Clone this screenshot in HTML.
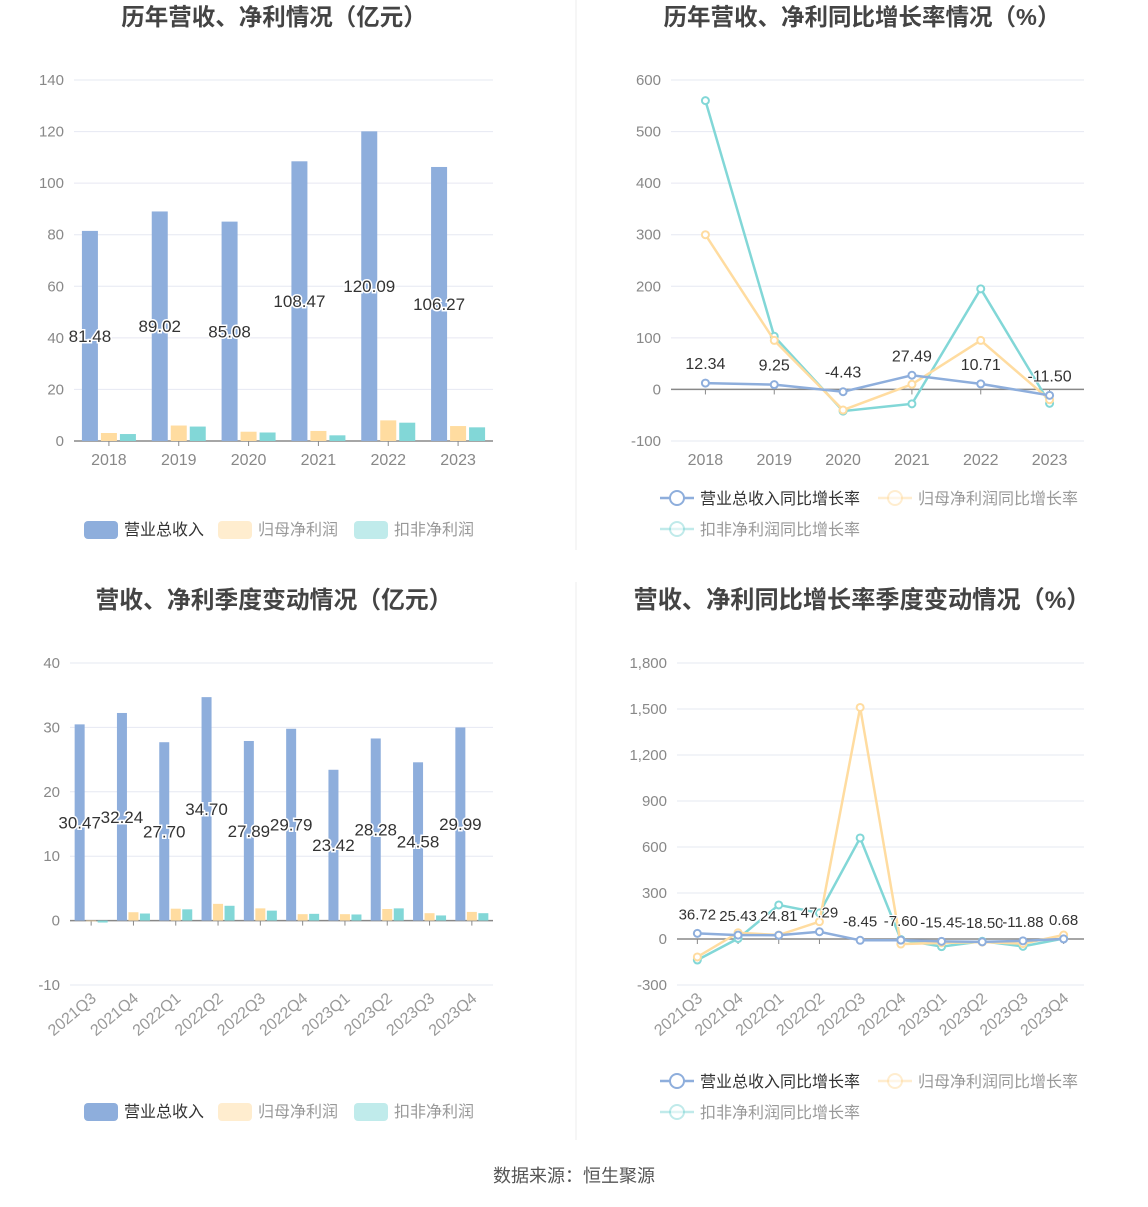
<!DOCTYPE html>
<html><head><meta charset="utf-8"><style>
body{margin:0;background:#fff;}
svg text{font-family:"Liberation Sans","Noto Sans CJK SC",sans-serif;}
</style></head><body>
<svg id="s" width="1148" height="1202" xmlns="http://www.w3.org/2000/svg">
<line x1="576" y1="0" x2="576" y2="550" stroke="#eee"/>
<line x1="576" y1="582" x2="576" y2="1140" stroke="#eee"/>
<text x="574" y="1182" text-anchor="middle" font-size="18" fill="#555">数据来源：恒生聚源</text>
</svg>
<script>
const years=["2018","2019","2020","2021","2022","2023"];
const revA=[81.48,89.02,85.08,108.47,120.09,106.27];
const npA=[3.1,6.0,3.6,3.9,8.0,5.8];
const dnpA=[2.7,5.6,3.3,2.2,7.1,5.3];
const revGA=[12.34,9.25,-4.43,27.49,10.71,-11.50];
const npGA=[300,95,-40,10,95,-20];
const dnpGA=[560,103,-42,-28,195,-27];
const quarters=["2021Q3","2021Q4","2022Q1","2022Q2","2022Q3","2022Q4","2023Q1","2023Q2","2023Q3","2023Q4"];
const revQ=[30.47,32.24,27.70,34.70,27.89,29.79,23.42,28.28,24.58,29.99];
const npQ=[-0.1,1.3,1.85,2.6,1.9,1.0,1.0,1.8,1.15,1.35];
const dnpQ=[-0.3,1.1,1.75,2.3,1.55,1.05,0.95,1.9,0.8,1.15];
const revGQ=[36.72,25.43,24.81,47.29,-8.45,-7.60,-15.45,-18.50,-11.88,0.68];
const npGQ=[-117,41,26,113,1510,-33,-25,-20,-30,26];
const dnpGQ=[-137,3,222,170,659,-3,-50,-15,-48,3];
const tA=[0,20,40,60,80,100,120,140], tB=[-100,0,100,200,300,400,500,600];
const tC=[-10,0,10,20,30,40], tD=[-300,0,300,600,900,1200,1500,1800];
const tDlab=["-300","0","300","600","900","1,200","1,500","1,800"];
const C=["#8eaedc","#ffdca0","#82d7d7"];
const S=document.getElementById('s');const NS="http://www.w3.org/2000/svg";
function mk(t,a,txt,name,par){const e=document.createElementNS(NS,t);for(const k in a)e.setAttribute(k,a[k]);if(txt!=null)e.textContent=txt;


(par||S).appendChild(e);return e;}
function chart(o){
 const g=mk('g',{},null,o.name);
 const y=v=>o.y0+(v-o.vmin)/(o.vmax-o.vmin)*(o.y1-o.y0);
 const n=o.cats.length,bw=(o.x1-o.x0)/n,x=i=>o.x0+bw*(i+0.5);
 mk('text',{x:o.tx,y:o.ty,'text-anchor':'middle','font-size':o.tfs,'font-weight':'bold',fill:'#444'},o.title,'chart-title',g);
 o.ticks.forEach((t,i)=>{const yy=y(t);
  if(t!==0)mk('line',{x1:o.x0,x2:o.x1,y1:yy,y2:yy,stroke:'#e6e8f2'},null,'grid-line',g);
  mk('text',{x:o.x0-10,y:yy+5,'text-anchor':'end','font-size':15,fill:'#888'},o.tlab?o.tlab[i]:t,'y-tick-label',g);});
 const zy=y(0);
 mk('line',{x1:o.x0,x2:o.x1,y1:zy,y2:zy,stroke:'#888','stroke-width':1.5},null,'x-axis',g);
 o.cats.forEach((c,i)=>{const cx=x(i);
  mk('line',{x1:cx,x2:cx,y1:zy,y2:zy+5,stroke:'#888'},null,'x-tick',g);
  if(o.rot){mk('text',{x:cx+6,y:o.labY,'text-anchor':'end','font-size':16,fill:'#999',transform:`rotate(-40 ${cx+6} ${o.labY})`},c,'x-tick-label',g);}
  else mk('text',{x:cx,y:o.labY,'text-anchor':'middle','font-size':16,fill:'#888'},c,'x-tick-label',g);});
 if(o.type==='bar'){
  const w=o.bw,gap=o.gap;
  o.series.forEach((sr,si)=>sr.forEach((v,i)=>{const bx=x(i)+(si-1)*(w+gap)-w/2;const a=y(v);
   mk('rect',{x:bx,y:Math.min(a,zy),width:w,height:Math.abs(zy-a),fill:C[si]},null,'bar-'+['revenue','net-profit','deducted-profit'][si]+'-'+o.cats[i],g);}));
  o.series[0].forEach((v,i)=>{const bx=x(i)-(w+gap);const my=(y(v)+zy)/2;
   mk('text',{x:bx,y:my+6,'text-anchor':'middle','font-size':17,fill:'#333',stroke:'#fff','stroke-width':3,'paint-order':'stroke'},v.toFixed(2),'value-label',g);});
 } else {
  [2,1,0].forEach(si=>{const sr=o.series[si];
   mk('polyline',{points:sr.map((v,i)=>x(i)+','+y(v)).join(' '),fill:'none',stroke:C[si],'stroke-width':2.5},null,'line-'+['revenue','net-profit','deducted-profit'][si]+'-growth',g);
   sr.forEach((v,i)=>mk('circle',{cx:x(i),cy:y(v),r:3.5,fill:'#fff',stroke:C[si],'stroke-width':2},null,'point',g));});
  o.series[0].forEach((v,i)=>mk('text',{x:x(i),y:y(v)-14,'text-anchor':'middle','font-size':o.lfs,fill:'#333',stroke:'#fff','stroke-width':2,'paint-order':'stroke'},v.toFixed(2),'value-label',g));
 }
 const names=o.type==='bar'?["营业总收入","归母净利润","扣非净利润"]:["营业总收入同比增长率","归母净利润同比增长率","扣非净利润同比增长率"];
 o.leg.forEach((p,si)=>{const lg=mk('g',{},null,'legend-entry');g.appendChild(lg);
  const op=si===0?1:0.5;
  if(o.type==='bar')mk('rect',{x:p[0],y:p[1]-8,width:34,height:18,rx:4,fill:C[si],opacity:op},null,'legend-swatch',lg);
  else{mk('line',{x1:p[0],x2:p[0]+34,y1:p[1],y2:p[1],stroke:C[si],'stroke-width':2.5,opacity:op},null,'legend-line',lg);
   mk('circle',{cx:p[0]+17,cy:p[1],r:7,fill:'#fff',stroke:C[si],'stroke-width':2,opacity:op},null,'legend-marker',lg);}
  mk('text',{x:p[0]+40,y:p[1]+6,'font-size':16,fill:si===0?'#333':'#999'},names[si],'legend-label',lg);});
}
chart({name:'annual-revenue-profit-chart',title:'历年营收、净利情况（亿元）',tx:274,ty:25,tfs:23.5,x0:74,x1:493,y0:441,y1:80,vmin:0,vmax:140,ticks:tA,cats:years,labY:465,type:'bar',bw:16,gap:3,series:[revA,npA,dnpA],leg:[[84,529],[218,529],[354,529]]});
chart({name:'annual-growth-chart',title:'历年营收、净利同比增长率情况（%）',tx:862,ty:25,tfs:23.5,x0:671,x1:1084,y0:441,y1:80,vmin:-100,vmax:600,ticks:tB,cats:years,labY:465,type:'line',lfs:16,series:[revGA,npGA,dnpGA],leg:[[660,498],[878,498],[660,529]]});
chart({name:'quarterly-revenue-profit-chart',title:'营收、净利季度变动情况（亿元）',tx:274,ty:608,tfs:23.8,x0:70,x1:493,y0:985,y1:663,vmin:-10,vmax:40,ticks:tC,cats:quarters,labY:1000,rot:true,type:'bar',bw:10,gap:1.5,series:[revQ,npQ,dnpQ],leg:[[84,1111],[218,1111],[354,1111]]});
chart({name:'quarterly-growth-chart',title:'营收、净利同比增长率季度变动情况（%）',tx:862,ty:608,tfs:24.2,x0:677,x1:1084,y0:985,y1:663,vmin:-300,vmax:1800,ticks:tD,tlab:tDlab,cats:quarters,labY:1000,rot:true,type:'line',lfs:15,series:[revGQ,npGQ,dnpGQ],leg:[[660,1081],[878,1081],[660,1112]]});
</script>
</body></html>
